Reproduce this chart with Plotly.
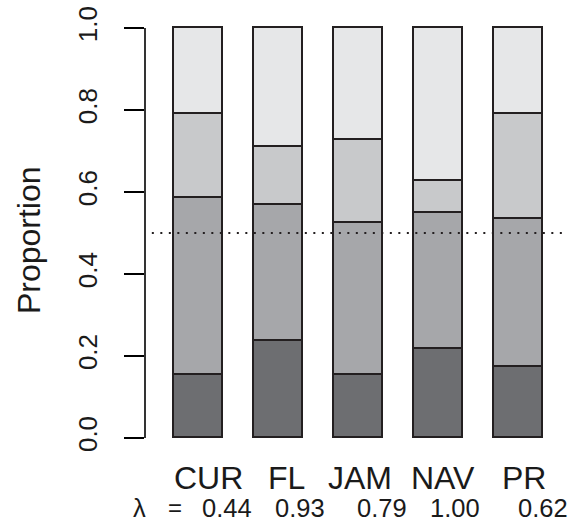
import plotly.graph_objects as go

# Site categories and the proportion of each class within a site (bottom to top)
sites = ["CUR", "FL", "JAM", "NAV", "PR"]
class1 = [0.154, 0.237, 0.154, 0.216, 0.173]
class2 = [0.431, 0.332, 0.371, 0.332, 0.360]
class3 = [0.205, 0.140, 0.202, 0.080, 0.257]
class4 = [0.210, 0.291, 0.273, 0.372, 0.210]
lambdas = ["0.44", "0.93", "0.79", "1.00", "0.62"]
y_ticks = [0.0, 0.2, 0.4, 0.6, 0.8, 1.0]

FONT = "Liberation Sans, Arial, Helvetica, sans-serif"
OUTLINE = "#231f20"
TEXT = "#1a1a1a"
fills = ["#6d6e71", "#a6a7aa", "#c8c9cb", "#e6e7e8"]

# pixel nudges for the text rows under the bars
site_shift = [9.5, 7.5, 1.5, 4.5, 5.5]
lambda_shift = [28.5, 21.5, 23.5, 16.5, 24.5]

xpos = list(range(len(sites)))

fig = go.Figure()
for vals, col in zip([class1, class2, class3, class4], fills):
    fig.add_trace(go.Bar(
        x=xpos, y=vals, width=0.61,
        marker=dict(color=col, line=dict(color=OUTLINE, width=1.8)),
        showlegend=False, hoverinfo="skip",
    ))

# reference line at one half
fig.add_shape(type="line", xref="paper", yref="y", x0=0.016, x1=0.99, y0=0.5, y1=0.5,
              line=dict(color=OUTLINE, width=2, dash="2px,6.5px"), layer="above")
# left axis line spanning only 0..1
fig.add_shape(type="line", xref="paper", yref="y", x0=0, x1=0, y0=0, y1=1,
              line=dict(color="black", width=1.6))

annotations = []
for i, s in enumerate(sites):
    annotations.append(dict(x=i, y=-0.085, xref="x", yref="paper", text=s,
                            showarrow=False, xanchor="center", yanchor="middle",
                            xshift=site_shift[i],
                            font=dict(family=FONT, size=32, color=TEXT)))
for i, lam in enumerate(lambdas):
    annotations.append(dict(x=i, y=-0.157, xref="x", yref="paper", text=lam,
                            showarrow=False, xanchor="center", yanchor="middle",
                            xshift=lambda_shift[i],
                            font=dict(family=FONT, size=25.5, color=TEXT)))
annotations.append(dict(x=-0.014, y=-0.157, xref="paper", yref="paper", text="λ",
                        showarrow=False, xanchor="center", yanchor="middle",
                        font=dict(family=FONT, size=25.5, color=TEXT)))
annotations.append(dict(x=0.070, y=-0.157, xref="paper", yref="paper", text="=",
                        showarrow=False, xanchor="center", yanchor="middle",
                        font=dict(family=FONT, size=24, color=TEXT)))
annotations.append(dict(x=-0.2717, y=0.483, xref="paper", yref="paper", text="Proportion",
                        showarrow=False, xanchor="center", yanchor="middle", textangle=-90,
                        font=dict(family=FONT, size=32, color=TEXT)))

fig.update_layout(
    width=575, height=531,
    margin=dict(l=145, r=3, t=24, b=89),
    paper_bgcolor="white", plot_bgcolor="white",
    barmode="stack", bargap=0,
    annotations=annotations,
    xaxis=dict(range=[-0.669, 4.669], showgrid=False, zeroline=False,
               showline=False, showticklabels=False, ticks=""),
    yaxis=dict(range=[-0.01, 1.01], showgrid=False, zeroline=False, showline=False,
               tickvals=y_ticks, ticktext=[f"{v:.1f}" for v in y_ticks],
               ticks="outside", ticklen=20, tickwidth=1.6, tickcolor="black",
               tickangle=-90, ticklabelstandoff=17,
               tickfont=dict(family=FONT, size=26, color=TEXT)),
)

fig.write_html("out.html")
